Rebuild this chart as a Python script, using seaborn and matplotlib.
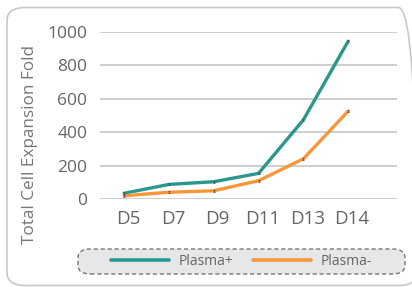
import matplotlib
matplotlib.use('Agg')
import matplotlib.pyplot as plt
import matplotlib.transforms as mtrans
from matplotlib.patches import FancyBboxPatch
import pandas as pd
import seaborn as sb

# values
days = ['D5', 'D7', 'D9', 'D11', 'D13', 'D14']
plasma_pos = [36, 89, 105, 155, 475, 945]
plasma_neg = [21, 42, 51, 111, 242, 527]
err_pos = [6, 6, 6, 6, 6, 6]
err_neg = [6, 6, 6, 6, 6, 6]
y_ticks = [0, 200, 400, 600, 800, 1000]

teal = '#2a978f'
orange = '#f8973a'
txt = '#666666'

sb.set_style('white')
plt.rcParams['font.family'] = ['Open Sans', 'DejaVu Sans']

df = pd.DataFrame({
    'day': days * 2,
    'fold': plasma_pos + plasma_neg,
    'group': ['Plasma+'] * len(days) + ['Plasma-'] * len(days),
})

fig = plt.figure(figsize=(4.12, 2.87), dpi=100)
ax = fig.add_axes([0.2427, 0.3056, 0.7209, 0.5829])

# outer rounded card
fig.patches.append(FancyBboxPatch((7 / 412, 1.5 / 287), 410 / 412, 278 / 287,
                                  boxstyle='round,pad=0,rounding_size=0.045',
                                  transform=fig.transFigure, facecolor='none',
                                  edgecolor='#c8c8c8', linewidth=1.2, zorder=0))

for y in y_ticks:
    ax.axhline(y, color='#c6c6c6', linewidth=1.2, zorder=0)

sb.lineplot(data=df, x='day', y='fold', hue='group', palette=[teal, orange],
            linewidth=2.4, ax=ax, legend=False, zorder=3)
ax.errorbar(days, plasma_pos, yerr=err_pos, fmt='none', ecolor='#555555',
            elinewidth=0.6, capsize=0.8, capthick=0.6, zorder=4)
ax.errorbar(days, plasma_neg, yerr=err_neg, fmt='none', ecolor='#555555',
            elinewidth=0.6, capsize=0.8, capthick=0.6, zorder=4)

ax.set_ylim(0, 1000)
ax.set_xlim(-0.54, 6.09)
ax.set_yticks(y_ticks)
ax.set_xlabel('')
ax.set_ylabel('Total Cell Expansion Fold', fontsize=12.3, color='#777777')
ax.yaxis.set_label_coords(-62 / 297, (199.3 - 145) / 167.3)
ax.tick_params(axis='y', length=0, pad=9, labelsize=12.5, labelcolor=txt)
ax.tick_params(axis='x', length=0, pad=8, labelsize=13.5, labelcolor=txt)
shift = mtrans.ScaledTranslation(4 / 100, 0, fig.dpi_scale_trans)
for lab in ax.get_xticklabels():
    lab.set_transform(lab.get_transform() + shift)
for s in ax.spines.values():
    s.set_visible(False)
ax.grid(False)

# legend pill with dashed border
fig.patches.append(FancyBboxPatch((78 / 412, (287 - 274) / 287), 327 / 412, 25 / 287,
                                  boxstyle='round,pad=0,rounding_size=0.03',
                                  transform=fig.transFigure, facecolor='#e6e7e8',
                                  edgecolor='#777777', linewidth=1, linestyle=(0, (3, 2)),
                                  zorder=1))
h1, = ax.plot([], [], color=teal, linewidth=2.6, label='Plasma+')
h2, = ax.plot([], [], color=orange, linewidth=2.6, label='Plasma-')
leg = fig.legend(handles=[h1, h2], loc='center', bbox_to_anchor=(241.5 / 412, 1 - 261.5 / 287),
                 ncol=2, frameon=False, fontsize=10, handlelength=4.2,
                 handletextpad=0.7, columnspacing=1.4, labelcolor=txt)

plt.savefig('out.png', dpi=100)
